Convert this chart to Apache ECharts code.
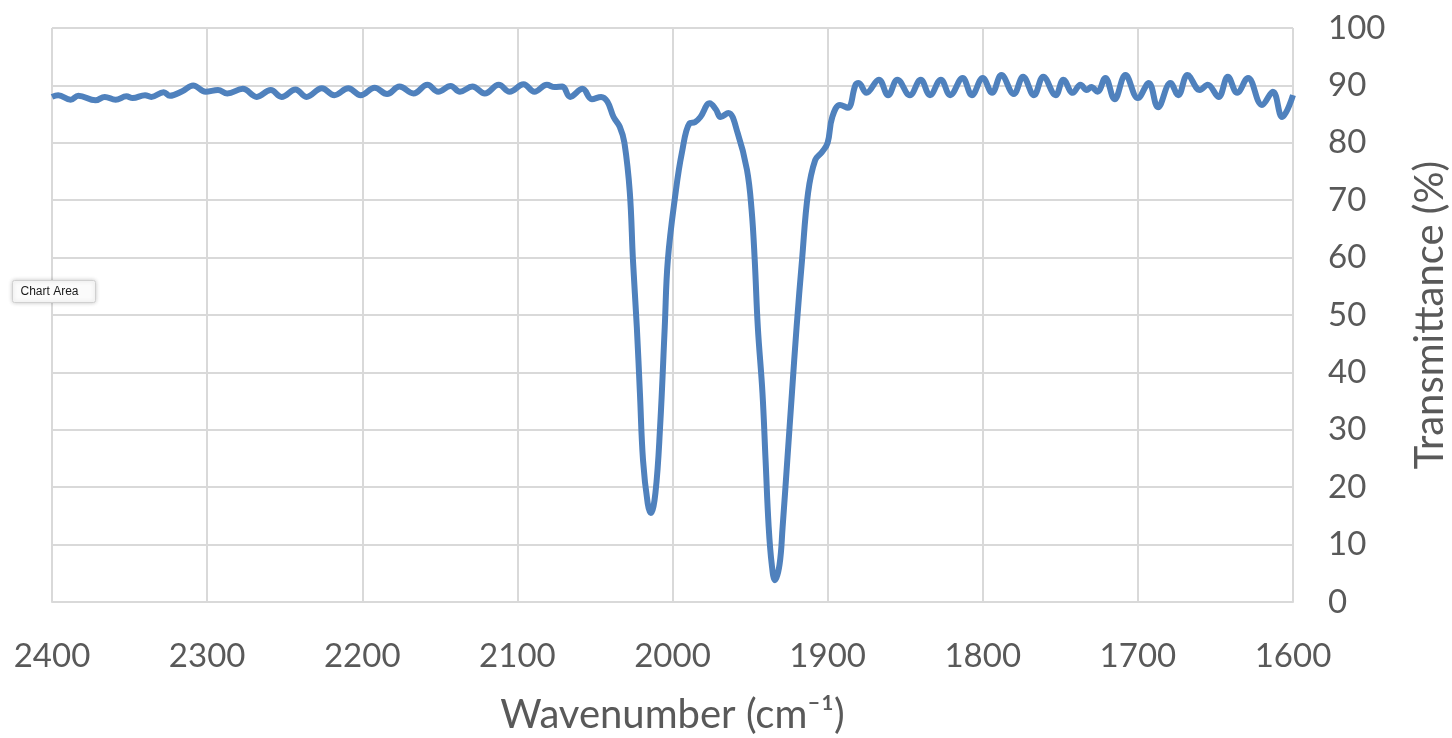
<!DOCTYPE html>
<html>
<head>
<meta charset="utf-8">
<script src="https://cdn.jsdelivr.net/npm/echarts@6/dist/echarts.min.js"></script>
<style>
html,body{margin:0;padding:0;background:#fff;}
#chart{width:1452px;height:738px;}
</style>
</head>
<body>
<div id="chart"></div>
<script>
var wavenumber = [2400,2396,2388,2383,2372,2366,2359,2352,2348,2340,2336,2328,2324,2316,2309,2301,2293,2287,2277,2268,2259,2252,2243,2236,2226,2218,2209,2201,2192,2184,2176,2167,2158,2151,2143,2137,2129,2121,2112,2105,2096,2089,2081,2076,2071,2066,2058,2052,2046,2042,2038,2034,2031,2027.5,2025.5,2023,2021,2019,2016,2014,2011,2008,2005,2003,1998,1994,1989,1985.5,1982,1976,1972,1969,1964,1958,1952,1949,1947,1945,1942,1940,1938,1936,1934,1931,1929,1926,1923,1920,1916.5,1912.6,1908,1903.6,1900,1897,1892,1887,1882,1880,1875,1867,1861,1855,1847,1840,1834,1827,1821,1813,1807,1800,1794,1788,1780,1774,1767,1761,1753,1748,1742,1737,1733,1730,1726,1721,1715,1708,1700,1693,1687,1679,1674,1668,1660,1655,1648,1642,1636,1629,1620,1613,1607,1600];
var transmittance = [88.0,88.3,87.5,88.2,87.4,88.0,87.5,88.1,87.8,88.3,88.0,88.8,88.2,89.0,90.0,88.9,89.2,88.6,89.4,88.0,89.2,88.0,89.3,88.0,89.5,88.3,89.5,88.3,89.6,88.5,89.8,88.6,90.1,88.9,89.9,88.9,89.8,88.6,90.1,88.9,90.2,88.9,90.1,89.7,89.8,88.0,89.4,87.6,88.0,87.2,84.5,82.8,80.0,71.3,59.6,47.9,36.4,24.7,17.2,15.5,19.0,30.5,47.9,59.6,71.3,78.2,83.4,83.6,84.5,86.9,85.8,84.5,85.2,81.7,75.3,68.3,59.6,47.9,36.4,24.7,13.1,6.5,3.8,6.5,13.1,24.7,36.4,47.9,59.6,71.3,77.0,78.4,80.0,84.5,86.6,86.1,90.1,90.4,88.7,91.0,88.3,91.0,88.3,91.0,88.3,91.0,88.3,91.3,88.3,91.3,88.7,91.8,88.5,91.5,88.3,91.5,88.3,91.0,88.7,90.1,89.2,89.7,88.9,91.3,87.6,91.8,87.8,90.4,86.2,90.4,88.3,91.8,89.2,90.1,88.0,91.5,88.7,91.3,86.6,88.9,84.5,88.3];
var xTicks = [2400,2300,2200,2100,2000,1900,1800,1700,1600];
var yTicks = [0,10,20,30,40,50,60,70,80,90,100];
var xTitle = 'Wavenumber (cm\u207B\u00B9)';
var yTitle = 'Transmittance (%)';

var pts = wavenumber.map(function(w,i){return [w, transmittance[i]];});
var chart = echarts.init(document.getElementById('chart'));
var font = 'Lato, "Open Sans", sans-serif';
chart.setOption({
  animation:false,
  backgroundColor:'#fff',
  grid:{left:52,right:159,top:28,bottom:136,containLabel:false,outerBoundsMode:'none'},
  xAxis:{
    type:'value', inverse:true, min:xTicks[xTicks.length-1], max:xTicks[0], interval:100,
    axisLine:{show:true,lineStyle:{color:'#d9d9d9',width:2}},
    axisTick:{show:false},
    axisLabel:{color:'#595959',fontSize:33,fontFamily:font,margin:38,formatter:function(v){return String(v);}},
    splitLine:{show:true,lineStyle:{color:'#d9d9d9',width:2}},
    name:xTitle, nameLocation:'middle', nameGap:93,
    nameTextStyle:{color:'#595959',fontSize:40,fontFamily:font}
  },
  yAxis:{
    type:'value', position:'right', min:yTicks[0], max:yTicks[yTicks.length-1], interval:10,
    axisLine:{show:false}, axisTick:{show:false},
    axisLabel:{color:'#595959',fontSize:33,fontFamily:font,margin:35,align:'left',formatter:function(v){return String(v);}},
    splitLine:{show:true,lineStyle:{color:'#d9d9d9',width:2}},
    name:yTitle, nameLocation:'middle', nameRotate:90, nameGap:117,
    nameTextStyle:{color:'#595959',fontSize:40,fontFamily:font}
  },
  series:[{
    type:'line', data:pts, smooth:0.4, showSymbol:false,
    lineStyle:{color:'#4f81bd',width:6}
  }],
  graphic:[{
    type:'group', left:12, top:280, z:100,
    children:[
      {type:'rect',z:100,shape:{x:0,y:0,width:83,height:22,r:2},style:{fill:'#fbfbfb',stroke:'#d0d0d0',lineWidth:1,shadowBlur:4,shadowColor:'rgba(0,0,0,0.2)'}},
      {type:'text',z:101,style:{x:8,y:11,text:'Chart Area',fill:'#1a1a1a',font:'12px "Liberation Sans", Arial, sans-serif',align:'left',verticalAlign:'middle'}}
    ]
  }]
});
</script>
</body>
</html>
